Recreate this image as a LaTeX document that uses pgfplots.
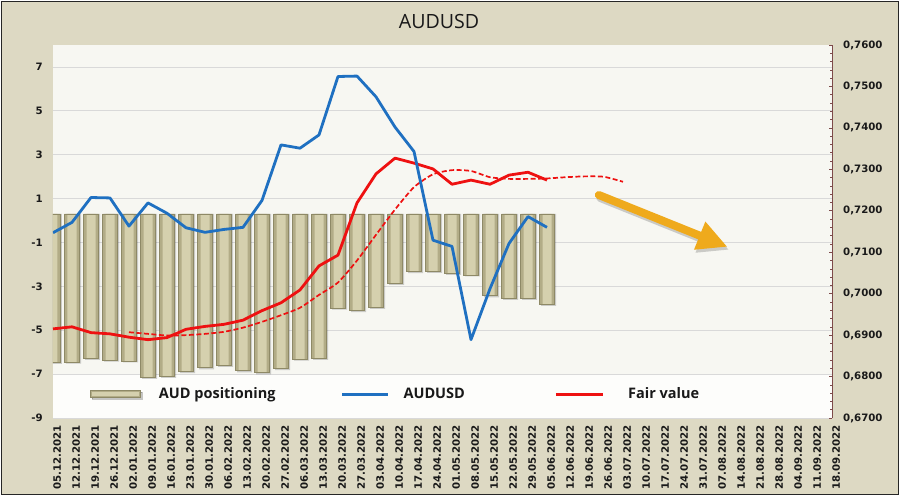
\documentclass[border=0pt]{standalone}
\usepackage{pgfplots}
\usepackage{pgfplotstable}
\pgfplotsset{compat=1.18}
\usetikzlibrary{arrows.meta}
\usepackage{fontspec}
\newfontfamily\dejavu{DejaVu Sans}
\newfontfamily\osans{Open Sans}
\newcommand{\tickfont}{\dejavu\bfseries\fontsize{10.2}{12}\selectfont}
\newcommand{\legfont}{\osans\bfseries\fontsize{14.5}{17}\selectfont}
\newcommand{\titfont}{\osans\fontsize{19.6}{22}\selectfont}

\definecolor{outerbg}{HTML}{DDD9C3}
\definecolor{plotbg}{HTML}{F7F7F2}
\definecolor{bandbg}{HTML}{FDFDFB}
\definecolor{gridc}{HTML}{D9D9D9}
\definecolor{barmid}{HTML}{D5D0AE}
\definecolor{baredge}{HTML}{B2AC87}
\definecolor{bardraw}{HTML}{8E8966}
\definecolor{audblue}{HTML}{1F70C1}
\definecolor{fairred}{HTML}{EE1111}
\definecolor{axisred}{HTML}{7D4A4A}
\definecolor{arrowc}{HTML}{EFAA1C}

\pgfplotstableread{
i pos
0 -6.46
1 -6.45
2 -6.28
3 -6.36
4 -6.40
5 -7.15
6 -7.10
7 -6.89
8 -6.71
9 -6.60
10 -6.85
11 -6.94
12 -6.75
13 -6.31
14 -6.28
15 -3.99
16 -4.11
17 -3.96
18 -2.86
19 -2.33
20 -2.31
21 -2.41
22 -2.48
23 -3.43
24 -3.55
25 -3.55
26 -3.82
}\bars

\pgfplotstableread{
i audusd fair
0 0.7147 0.6915
1 0.7172 0.6920
2 0.7232 0.6906
3 0.7231 0.6903
4 0.7163 0.6895
5 0.7219 0.6889
6 0.7194 0.6894
7 0.7159 0.6914
8 0.7148 0.6921
9 0.7155 0.6926
10 0.7160 0.6936
11 0.7225 0.6959
12 0.7359 0.6978
13 0.7351 0.7009
14 0.7383 0.7067
15 0.7524 0.7093
16 0.7525 0.7219
17 0.7475 0.7289
18 0.7402 0.7327
19 0.7343 0.7315
20 0.7129 0.7301
21 0.7114 0.7264
22 0.6889 0.7274
23 0.7012 0.7264
24 0.7121 0.7286
25 0.7186 0.7293
26 0.7160 0.7274
}\lines

\pgfplotstableread{
i trend
4 0.6907
5 0.6903
6 0.6899
7 0.6900
8 0.6903
9 0.6908
10 0.6918
11 0.6932
12 0.6948
13 0.6966
14 0.6997
15 0.7027
16 0.7080
17 0.7142
18 0.7203
19 0.7257
20 0.7288
21 0.7298
22 0.7296
23 0.7281
24 0.7277
25 0.7277
26 0.7278
27 0.7281
28 0.7283
29 0.7282
30 0.7270
}\trend

\begin{document}
\begin{tikzpicture}
% chart background
\fill[white] (-53pt,-78pt) rectangle (847pt,418pt);
\fill[outerbg, draw=black!85, line width=1pt] (-51pt,-76pt) rectangle (845pt,416pt);
\node[font=\titfont, text=black!90] at (386pt,396pt) {AUDUSD};

% axis A: background, grid, left ticks, x labels
\begin{axis}[
  scale only axis, width=779pt, height=373pt,
  xmin=0, xmax=41, ymin=-9, ymax=8,
  axis background/.style={fill=plotbg},
  axis line style={draw=none},
  tick style={draw=none},
  major tick length=0pt,
  ytick={-9,-7,-5,-3,-1,1,3,5,7},
  yticklabels={-9,-7,-5,-3,-1,1,3,5,7},
  ymajorgrids,
  grid style={gridc, line width=0.8pt},
  xtick={0,...,41},
  xticklabels={05.12.2021,12.12.2021,19.12.2021,26.12.2021,02.01.2022,09.01.2022,16.01.2022,23.01.2022,30.01.2022,06.02.2022,13.02.2022,20.02.2022,27.02.2022,06.03.2022,13.03.2022,20.03.2022,27.03.2022,03.04.2022,10.04.2022,17.04.2022,24.04.2022,01.05.2022,08.05.2022,15.05.2022,22.05.2022,29.05.2022,05.06.2022,12.06.2022,19.06.2022,26.06.2022,03.07.2022,10.07.2022,17.07.2022,24.07.2022,31.07.2022,07.08.2022,14.08.2022,21.08.2022,28.08.2022,04.09.2022,11.09.2022,18.09.2022},
  xticklabel style={rotate=90, anchor=north east, inner sep=0pt, font=\tickfont, text=black!90},
  xticklabel shift=7pt,
  yticklabel style={anchor=east, inner sep=0pt, font=\tickfont, text=black!90},
  yticklabel shift=10pt,
]
\fill[bandbg] (axis cs:0,-9) rectangle (axis cs:41,-7.05);
\end{axis}

% axis B: bars hanging from 0.3 on the left scale
\begin{axis}[
  scale only axis, width=779pt, height=373pt,
  xmin=0, xmax=41, ymin=-9.3, ymax=7.7,
  hide axis,
]
% soft shadow
\addplot[ybar, bar width=15pt, bar shift=1.5pt, fill=black, fill opacity=0.18, draw=none]
  table[x=i, y expr=\thisrow{pos}-0.37] {\bars};
% body
\addplot[ybar, bar width=15pt, bar shift=0pt, fill=baredge, draw=none]
  table[x=i, y expr=\thisrow{pos}-0.3] {\bars};
% lighter centre
\addplot[ybar, bar width=9pt, bar shift=0pt, fill=barmid, draw=none]
  table[x=i, y expr=\thisrow{pos}-0.3] {\bars};
% outline
\addplot[ybar, bar width=15pt, bar shift=0pt, fill=none, draw=bardraw, line width=0.7pt]
  table[x=i, y expr=\thisrow{pos}-0.3] {\bars};
\end{axis}

% axis C: lines, right axis, legend, arrow
\begin{axis}[
  scale only axis, width=779pt, height=373pt,
  xmin=0, xmax=41, ymin=0.67, ymax=0.76,
  axis x line=none,
  axis y line*=right,
  y axis line style={draw=axisred, line width=0.8pt},
  xtick=\empty,
  ytick={0.67,0.68,0.69,0.70,0.71,0.72,0.73,0.74,0.75,0.76},
  yticklabels={{0,6700},{0,6800},{0,6900},{0,7000},{0,7100},{0,7200},{0,7300},{0,7400},{0,7500},{0,7600}},
  minor y tick num=4,
  ytick align=inside,
  major tick length=3pt, minor tick length=2.5pt,
  tick style={draw=axisred, line width=0.6pt},
  yticklabel style={anchor=west, inner sep=0pt, font=\tickfont, text=black!90},
  yticklabel shift=11pt,
  legend columns=3,
  legend style={at={(0.0475,0.064)}, anchor=west, draw=none, fill=none,
    inner sep=0pt, outer sep=0pt, font=\legfont, text=black!90,
    nodes={inner sep=0pt, outer sep=0pt}, column sep=0pt, row sep=0pt},
]
\addlegendimage{legend image code/.code={\fill[black, opacity=0.22] (1.5pt,-5pt) rectangle (51.5pt,2pt);\fill[baredge, draw=bardraw, line width=0.5pt] (0pt,-3.5pt) rectangle (50pt,3.5pt);\fill[barmid] (2pt,-1.5pt) rectangle (48pt,1.5pt);}}
\addlegendentry{\makebox[199pt][l]{\hspace{17pt}AUD positioning}}
\addlegendimage{legend image code/.code={\draw[audblue, line width=2.8pt] (0pt,0pt) -- (46pt,0pt); \path (50pt,0pt);}}
\addlegendentry{\makebox[162pt][l]{\hspace{11pt}AUDUSD}}
\addlegendimage{legend image code/.code={\draw[fairred, line width=2.8pt] (0pt,0pt) -- (47pt,0pt); \path (50pt,0pt);}}
\addlegendentry{\makebox[80pt][l]{\hspace{22pt}Fair value}}

\addplot[forget plot, fairred, line width=1.7pt, dash pattern=on 5pt off 2.5pt, smooth, tension=0.4] table[x=i, y=trend] {\trend};
\addplot[forget plot, fairred, line width=2.8pt, line join=round] table[x=i, y=fair] {\lines};
\addplot[forget plot, audblue, line width=2.8pt, line join=round] table[x=i, y=audusd] {\lines};

\draw[black, opacity=0.18, line width=8pt, line cap=round, -{Triangle[length=30pt,width=28pt]}]
  ([xshift=1.5pt,yshift=-3pt]axis cs:28.73,0.7238) -- ([xshift=1.5pt,yshift=-3pt]axis cs:35.5,0.7113);
\draw[arrowc, line width=8pt, line cap=round, -{Triangle[length=30pt,width=28pt]}]
  (axis cs:28.73,0.7238) -- (axis cs:35.5,0.7113);
\end{axis}

\pgfresetboundingbox
\path[use as bounding box] (-53pt,-78pt) rectangle (847pt,418pt);
\end{tikzpicture}
\end{document}
